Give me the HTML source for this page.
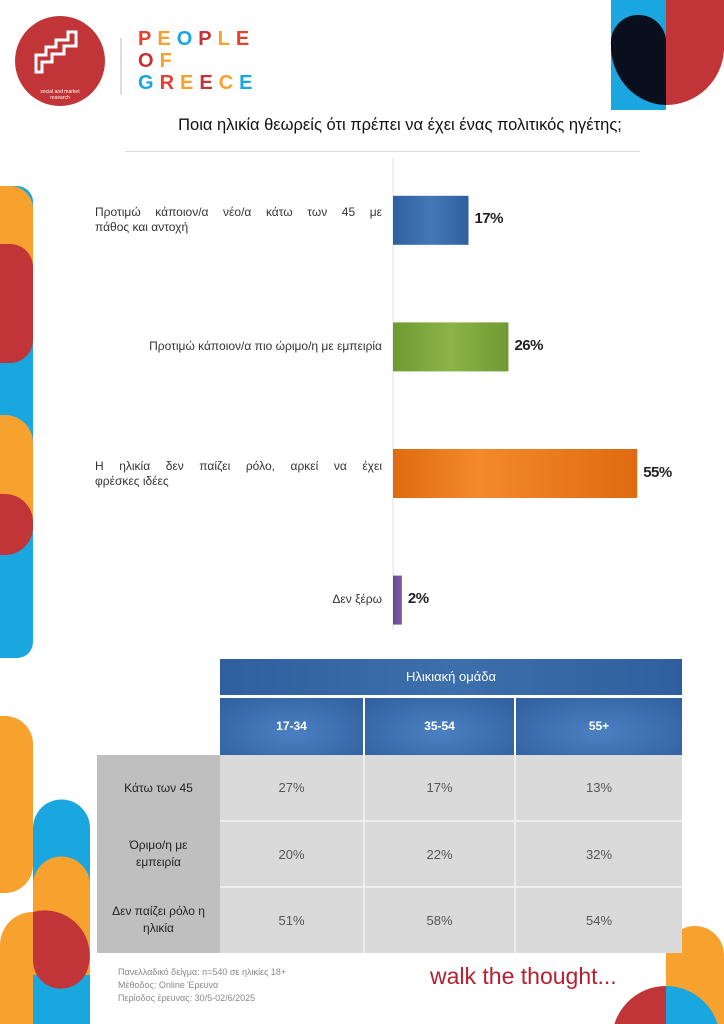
<!DOCTYPE html>
<html><head><meta charset="utf-8">
<style>
*{margin:0;padding:0;box-sizing:border-box}
body{width:724px;height:1024px;position:relative;overflow:hidden;background:#fff;font-family:"Liberation Sans","Noto Sans CJK SC",sans-serif;color:#222}
.abs{position:absolute}
.lbl{position:absolute;font-size:12px;color:#333;line-height:15px}
.jl{text-align:justify;text-align-last:justify;display:block}
.val{position:absolute;font-size:15px;font-weight:bold;color:#222;letter-spacing:-0.5px}
table{border-collapse:collapse}
</style></head><body>
<svg class="abs" style="left:0;top:0" width="724" height="1024">
  <rect x="611" y="0" width="55" height="110" fill="#1aa6de"/>
  <path d="M666 0 H724 V50 A58 58 0 0 1 666 105 Z" fill="#c13538"/>
  <path d="M666 105 A56 60 0 0 1 611 50 V45 A27 27 0 0 1 666 40 Z" fill="#0a0f1e"/>
  <path d="M0 186 H17 A16 16 0 0 1 33 202 V642 A16 16 0 0 1 17 658 H0 Z" fill="#1aa6de"/>
  <path d="M0 186 H10 A23 23 0 0 1 33 209 V290 H0 Z" fill="#f7a22f"/>
  <path d="M0 244 H10 A23 23 0 0 1 33 267 V340 A23 23 0 0 1 10 363 H0 Z" fill="#c13538"/>
  <path d="M0 415 H5 A28 28 0 0 1 33 443 V520 H0 Z" fill="#f7a22f"/>
  <path d="M0 494 H5 A28 28 0 0 1 33 522 V527 A28 28 0 0 1 5 555 H0 Z" fill="#c13538"/>
  <path d="M0 716 H5 A28 28 0 0 1 33 744 V866 A28 28 0 0 1 5 893 H0 Z" fill="#f7a22f"/>
  <path d="M33 828 A28 28 0 0 1 90 828 V1024 H33 Z" fill="#1aa6de"/>
  <path d="M33 885 A28 28 0 0 1 90 885 V975 H33 Z" fill="#f7a22f"/>
  <path d="M0 945 A33 33 0 0 1 33 912 V1024 H0 Z" fill="#f7a22f"/>
  <path d="M33 912 A45 45 0 0 1 88 968 A28 28 0 0 1 33 960 Z" fill="#c13538"/>
  <path d="M666 955 A29 29 0 0 1 724 955 V1024 H666 Z" fill="#f7a22f"/>
  <path d="M612 1040 A54 54 0 0 1 666 986 V1040 Z" fill="#c13538"/>
  <path d="M666 986 A54 54 0 0 1 720 1040 H666 Z" fill="#1aa6de"/>
  <circle cx="60" cy="61" r="45" fill="#c13538"/>
  <path d="M36 55 h10 v-8 h10 v-7 h12 v-8 h8 v14 h-12 v8 h-12 v8 h-10 v10 h-6 z" fill="none" stroke="#fff" stroke-width="3"/>
  <text x="60" y="93" font-size="5" fill="#fff" text-anchor="middle" font-family="Liberation Sans">social and market</text>
  <text x="60" y="99" font-size="5" fill="#fff" text-anchor="middle" font-family="Liberation Sans">research</text>
  <line x1="121" y1="38" x2="121" y2="95" stroke="#bbb" stroke-width="1"/>
</svg>
<div class="abs" style="left:138px;top:28px;font-size:20px;line-height:22px;letter-spacing:6px;font-weight:bold">
<div><span style="color:#e8402f">P</span><span style="color:#f7a22f">E</span><span style="color:#1aa6de">O</span><span style="color:#c13538">P</span><span style="color:#f7a22f">L</span><span style="color:#e8402f">E</span></div>
<div><span style="color:#c13538">O</span><span style="color:#f7a22f">F</span></div>
<div><span style="color:#1aa6de">G</span><span style="color:#e8402f">R</span><span style="color:#f7a22f">E</span><span style="color:#c13538">E</span><span style="color:#f7a22f">C</span><span style="color:#1aa6de">E</span></div>
</div>
<div class="abs" style="left:125px;width:550px;top:116px;text-align:center;font-size:16.5px;color:#111">Ποια ηλικία θεωρείς ότι πρέπει να έχει ένας πολιτικός ηγέτης;</div>
<div class="abs" style="left:125px;top:151px;width:515px;height:1px;background:#ddd"></div>

<svg class="abs" style="left:0;top:0" width="724" height="660" id="chart">
<defs>
<linearGradient id="g0" x1="0" x2="1"><stop offset="0" stop-color="#2f5f9e"/><stop offset=".5" stop-color="#4278b8"/><stop offset="1" stop-color="#2f5f9e"/></linearGradient>
<linearGradient id="g1" x1="0" x2="1"><stop offset="0" stop-color="#6f9a32"/><stop offset=".5" stop-color="#8cb447"/><stop offset="1" stop-color="#6f9a32"/></linearGradient>
<linearGradient id="g2" x1="0" x2="1"><stop offset="0" stop-color="#e06a10"/><stop offset=".35" stop-color="#f4892c"/><stop offset="1" stop-color="#e06a10"/></linearGradient>
<linearGradient id="g3" x1="0" x2="1"><stop offset="0" stop-color="#6a4a8e"/><stop offset="1" stop-color="#7e5ca3"/></linearGradient>
</defs>
</svg>
<div id="labels"></div>

<table class="abs" style="left:97px;top:659px;width:585px;font-size:12px;text-align:center">
<tr style="height:37px"><td style="width:123px;background:#fff"></td><td colspan="3" style="background:linear-gradient(90deg,#2f5f9e,#3d6fac,#2f5f9e);color:#fff;font-size:13px;border-bottom:3px solid #fff">Ηλικιακή ομάδα</td></tr>
<tr style="height:59px;color:#fff;font-weight:bold">
<td style="background:#fff"></td>
<td style="width:144px;background:radial-gradient(ellipse at 50% 60%,#4b80c2,#2f5f9e);border-right:2px solid #fff">17-34</td>
<td style="width:151px;background:radial-gradient(ellipse at 50% 60%,#4b80c2,#2f5f9e);border-right:2px solid #fff">35-54</td>
<td style="background:radial-gradient(ellipse at 50% 60%,#4b80c2,#2f5f9e)">55+</td></tr>
<tr style="height:66px;color:#555;font-size:13px">
<td style="background:#bfbfbf;color:#222;font-size:12px">Κάτω των 45</td>
<td style="background:#dadada;border-right:2px solid #eee;border-bottom:2px solid #eee">27%</td><td style="background:#dadada;border-right:2px solid #eee;border-bottom:2px solid #eee">17%</td><td style="background:#dadada;border-bottom:2px solid #eee">13%</td></tr>
<tr style="height:66px;color:#555;font-size:13px">
<td style="background:#bfbfbf;color:#222;font-size:12px;line-height:17px">Όριμο/η με<br>εμπειρία</td>
<td style="background:#dadada;border-right:2px solid #eee;border-bottom:2px solid #eee">20%</td><td style="background:#dadada;border-right:2px solid #eee;border-bottom:2px solid #eee">22%</td><td style="background:#dadada;border-bottom:2px solid #eee">32%</td></tr>
<tr style="height:66px;color:#555;font-size:13px">
<td style="background:#bfbfbf;color:#222;font-size:12px;line-height:17px">Δεν παίζει ρόλο η<br>ηλικία</td>
<td style="background:#dadada;border-right:2px solid #eee">51%</td><td style="background:#dadada;border-right:2px solid #eee">58%</td><td style="background:#dadada">54%</td></tr>
</table>

<div class="abs" style="left:118px;top:966px;font-size:9px;line-height:13px;color:#888">Πανελλαδικό δείγμα: n=540 σε ηλικίες 18+<br>Μέθοδος: Online Έρευνα<br>Περίοδος έρευνας: 30/5-02/6/2025</div>
<div class="abs" style="left:430px;top:963px;font-size:23px;color:#b81f2e">walk the thought...</div>

<script>
const categories=["Προτιμώ κάποιον/α νέο/α κάτω των 45 με|πάθος και αντοχή","Προτιμώ κάποιον/α πιο ώριμο/η με εμπειρία","Η ηλικία δεν παίζει ρόλο, αρκεί να έχει|φρέσκες ιδέες","Δεν ξέρω"];
const values=[17,26,55,2];
const valueLabels=["17%","26%","55%","2%"];
const x0=393, pxPer=4.44, top0=158, band=126.6, barH=49;
function xScale(v){return x0+v*pxPer;}
function yCenter(i){return top0+band*(i+0.5)-1;}
const svg=document.getElementById('chart');
const NS='http://www.w3.org/2000/svg';
const axis=document.createElementNS(NS,'line');
axis.setAttribute('x1',x0);axis.setAttribute('x2',x0);axis.setAttribute('y1',158);axis.setAttribute('y2',630);
axis.setAttribute('stroke','#dde3ea');


svg.appendChild(axis);
const lab=document.getElementById('labels');
values.forEach((v,i)=>{
  const r=document.createElementNS(NS,'rect');
  const yc=yCenter(i);
  r.setAttribute('x',x0);r.setAttribute('y',yc-barH/2);
  r.setAttribute('width',xScale(v)-x0);r.setAttribute('height',barH);
  r.setAttribute('fill','url(#g'+i+')');
  
  
  svg.appendChild(r);
  const t=document.createElement('div');
  t.className='val';
  t.style.left=(xScale(v)+6)+'px';t.style.top=(yc-10)+'px';
  t.textContent=valueLabels[i];
  
  
  lab.appendChild(t);
  const c=document.createElement('div');
  c.className='lbl';
  const parts=categories[i].split('|');
  c.style.left='95px';c.style.width='287px';
  if(parts.length>1){
    c.style.top=(yc-15)+'px';
    const a=document.createElement('span');a.className='jl';a.textContent=parts[0];
    const b=document.createElement('span');b.style.display='block';b.textContent=parts[1];
    c.appendChild(a);c.appendChild(b);
  } else {
    c.style.top=(yc-8)+'px';c.style.textAlign='right';
    c.textContent=parts[0];
  }
  
  
  lab.appendChild(c);
});
</script>
</body></html>
